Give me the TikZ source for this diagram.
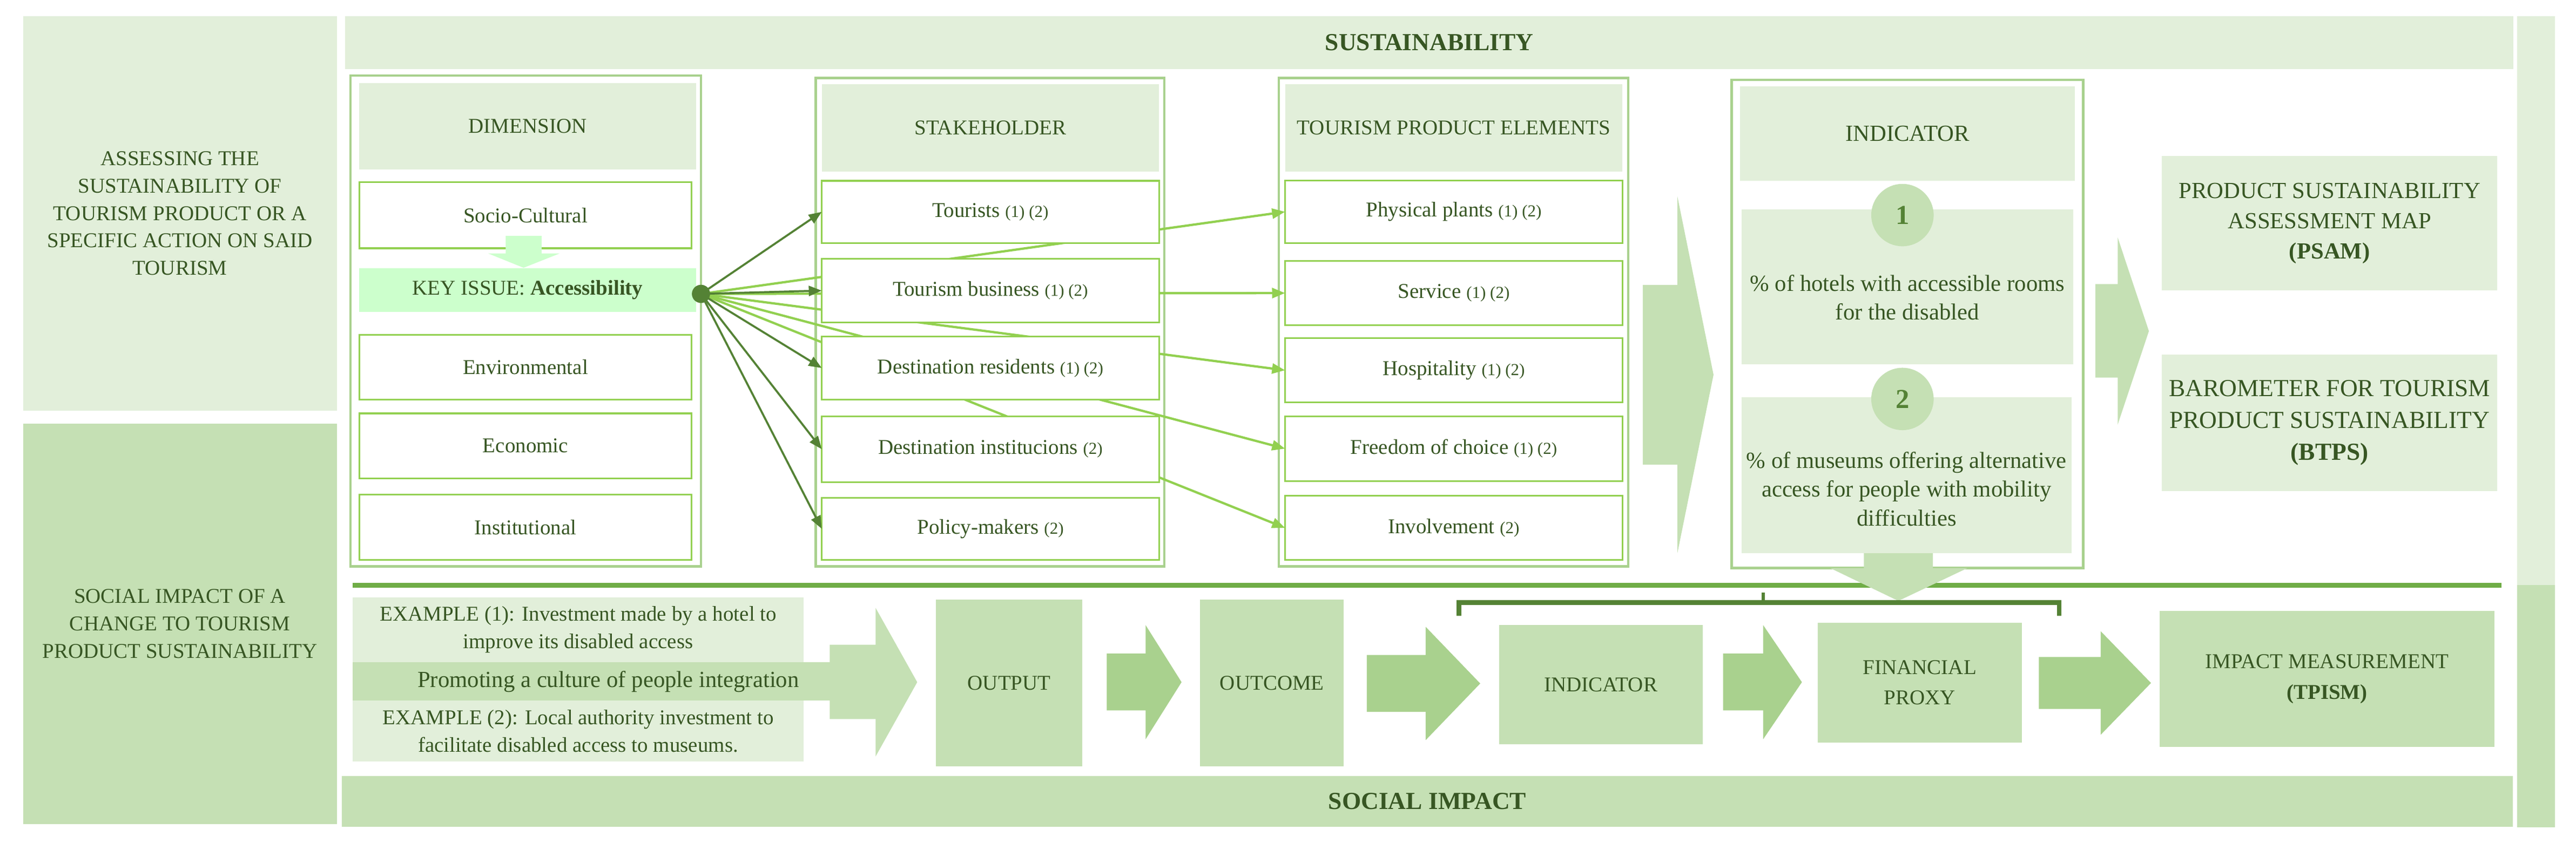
\documentclass[tikz,border=0pt]{standalone}
\usepackage{fontspec}
\setmainfont{Liberation Serif}
\usetikzlibrary{arrows.meta}
\definecolor{gL}{HTML}{E2EFDA}
\definecolor{gM}{HTML}{C5E0B4}
\definecolor{gA}{HTML}{A9D18E}
\definecolor{gB}{HTML}{92D050}
\definecolor{gK}{HTML}{CCFFCC}
\definecolor{gLine}{HTML}{70AD47}
\definecolor{dk}{HTML}{548235}
\definecolor{txt}{HTML}{375623}
\newcommand\RB[7]{\node[#1, minimum width={(#5-#3)*0.02cm}, minimum height={(#6-#4)*0.02cm}] (#2) at ({(#3+#5)/2},{(#4+#6)/2}) {#7};}
\newcommand\blk[8]{\fill[#1] (#2,#4) -- (#3,#4) -- (#3,#6) -- (#8,{(#6+#7)/2}) -- (#3,#7) -- (#3,#5) -- (#2,#5) -- cycle;}
\newcommand\nn[1]{{\fontsize{5.8}{6}\selectfont #1}}
\begin{document}
\begin{tikzpicture}[x=0.02cm,y=-0.02cm,
  base/.style={inner sep=0pt, outer sep=0pt, align=center, text=txt, font=\fontsize{7.3}{9.5}\selectfont},
  fL/.style={base, fill=gL},
  fM/.style={base, fill=gM},
  fK/.style={base, fill=gK},
  wb/.style={base, fill=white, draw=gB, line width=0.6pt},
  fr/.style={base, draw=gA, line width=0.8pt},
  dark/.style={draw=dk, line width=0.7pt, -{Triangle[length=4.5pt,width=3.5pt]}},
  lite/.style={draw=gB, line width=0.8pt, -{Triangle[length=4.5pt,width=3.5pt]}}]
\useasboundingbox (0,0) rectangle (1568,517.7);
\RB{fL}{lt}{14}{10}{205}{250}{ASSESSING THE\\SUSTAINABILITY OF\\TOURISM PRODUCT OR A\\SPECIFIC ACTION ON SAID\\TOURISM}
\RB{fM}{lb}{14}{258}{205}{502}{SOCIAL IMPACT OF A\\CHANGE TO TOURISM\\PRODUCT SUSTAINABILITY}
\RB{fL,font=\fontsize{8.5}{9}\selectfont\bfseries}{sus}{210}{10}{1530}{42}{SUSTAINABILITY}
\RB{fM,font=\fontsize{8.5}{9}\selectfont\bfseries}{soc}{208}{472.7}{1529.6}{503.6}{SOCIAL IMPACT}
\RB{fL}{rs1}{1532}{10}{1555}{356.2}{}
\RB{fM}{rs2}{1532}{356.2}{1555}{504}{}
\RB{fr}{fd}{213.4}{46.1}{426.7}{345}{}
\RB{fr}{fs}{496.5}{47.5}{708.6}{345}{}
\RB{fr}{fp}{778.4}{47.5}{991}{345}{}
\RB{fr}{fi}{1054}{48.6}{1268}{346}{}
\RB{fL}{dh}{218.7}{50.7}{423.6}{103.1}{DIMENSION}
\RB{wb}{d1}{218.7}{111}{421}{151.2}{Socio-Cultural}
\fill[gK] (307.8,143.7) -- (329.7,143.7) -- (329.7,154.4) -- (340.6,154.4) -- (318.7,163.1) -- (297.2,154.4) -- (307.8,154.4) -- cycle;
\RB{fK}{key}{218.7}{163.5}{423.6}{189.9}{KEY ISSUE: \textbf{Accessibility}}
\RB{wb}{d2}{218.7}{204}{421}{243.3}{Environmental}
\RB{wb}{d3}{218.7}{251.8}{421}{291.4}{Economic}
\RB{wb}{d4}{218.7}{301.3}{421}{341}{Institutional}
\RB{fL}{ph}{782.2}{51.2}{987.6}{104.4}{TOURISM PRODUCT ELEMENTS}
\RB{wb}{p1}{782.2}{110}{987.6}{148}{Physical plants \nn{(1) (2)}}
\RB{wb}{p2}{782.2}{159}{987.6}{198}{Service \nn{(1) (2)}}
\RB{wb}{p3}{782.2}{206}{987.6}{245}{Hospitality \nn{(1) (2)}}
\RB{wb}{p4}{782.2}{253.5}{987.6}{293}{Freedom of choice \nn{(1) (2)}}
\RB{wb}{p5}{782.2}{302}{987.6}{341}{Involvement \nn{(2)}}
\node[circle, fill=dk, inner sep=0pt, minimum size=0.22cm] (hub) at (426.7,179) {};
\draw[lite] (hub.center) -- (p1.west);
\draw[lite] (hub.center) -- (p2.west);
\draw[lite] (hub.center) -- (p3.west);
\draw[lite] (hub.center) -- (p4.west);
\draw[lite] (hub.center) -- (p5.west);
\RB{fL}{sh}{500.2}{51.2}{705.5}{104.6}{STAKEHOLDER}
\RB{wb}{s1}{500.2}{110.1}{705.5}{148}{Tourists \nn{(1) (2)}}
\RB{wb}{s2}{500.2}{157.5}{705.5}{196.5}{Tourism business \nn{(1) (2)}}
\RB{wb}{s3}{500.2}{205}{705.5}{243.3}{Destination residents \nn{(1) (2)}}
\RB{wb}{s4}{500.2}{253.5}{705.5}{293.7}{Destination institucions \nn{(2)}}
\RB{wb}{s5}{500.2}{303.2}{705.5}{341}{Policy-makers \nn{(2)}}
\draw[dark] (hub.center) -- (s1.west);
\draw[dark] (hub.center) -- (s2.west);
\draw[dark] (hub.center) -- (s3.west);
\draw[dark] (hub.center) -- (s4.west);
\draw[dark] (hub.center) -- (s5.west);
\node[circle, fill=dk, inner sep=0pt, minimum size=0.22cm] at (hub) {};
\RB{fL,font=\fontsize{8}{9}\selectfont}{ih}{1059}{52.5}{1263}{110}{INDICATOR}
\RB{fL,font=\fontsize{8}{10}\selectfont}{i1}{1060}{127.5}{1262}{222}{\\[3pt]\% of hotels with accessible rooms\\for the disabled}
\RB{fL,font=\fontsize{8}{10}\selectfont}{i2}{1060}{242}{1261}{337}{\\[5pt]\% of museums offering alternative\\access for people with mobility\\difficulties}
\node[circle, fill=gM, inner sep=0pt, minimum size=0.76cm, text=dk, font=\fontsize{9.5}{9}\selectfont\bfseries] (c1) at (1158,131) {1};
\node[circle, fill=gM, inner sep=0pt, minimum size=0.76cm, text=dk, font=\fontsize{9.5}{9}\selectfont\bfseries] (c2) at (1158,243) {2};
\blk{gM}{1000}{1021}{173.6}{283}{119.5}{337}{1043}
\blk{gM}{1275.5}{1289}{173}{230}{144.6}{258.7}{1308}
\RB{fL,font=\fontsize{8}{10.5}\selectfont}{psam}{1316}{95}{1520}{177}{PRODUCT SUSTAINABILITY\\ASSESSMENT MAP\\\textbf{(PSAM)}}
\RB{fL,font=\fontsize{8.5}{11}\selectfont}{btps}{1316}{216}{1520}{299}{BAROMETER FOR TOURISM\\PRODUCT SUSTAINABILITY\\\textbf{(BTPS)}}
\draw[gLine, line width=1.6pt] (214.7,356.4) -- (1522.6,356.4);
\fill[gM] (1134.5,337) -- (1176.5,337) -- (1176.5,346) -- (1197.6,346) -- (1155.5,366) -- (1114,346) -- (1134.5,346) -- cycle;
\draw[dk, line width=1.6pt] (888,375) -- (888,367) -- (1253.4,367) -- (1253.4,375);
\draw[dk, line width=1.2pt] (1073.2,367) -- (1073.2,361);
\RB{fL}{e1}{214.7}{363.9}{489.2}{403.3}{EXAMPLE (1): Investment made by a hotel to\\improve its disabled access}
\RB{fL}{e2}{214.7}{426.8}{489.2}{463.8}{EXAMPLE (2): Local authority investment to\\facilitate disabled access to museums.}
\RB{fM,font=\fontsize{8}{9}\selectfont}{prom}{214.7}{403.3}{505.8}{426.8}{\hspace*{0.4cm}Promoting a culture of people integration}
\blk{gM}{505}{533}{392.7}{438}{370.3}{460.7}{558.3}
\RB{fM}{out}{569.7}{365.3}{658.8}{466.8}{OUTPUT}
\blk{gA}{673.7}{697.3}{398}{432.7}{380.7}{450.3}{719.2}
\RB{fM}{outc}{730.5}{365.3}{818}{466.8}{OUTCOME}
\blk{gA}{832}{867.8}{398.9}{433.5}{381.8}{450.8}{901}
\RB{fM}{ind}{912.4}{380.6}{1036.5}{453.3}{INDICATOR}
\blk{gA}{1048.8}{1073.2}{398}{432.7}{380.7}{450.3}{1096.8}
\RB{fM,font=\fontsize{7.3}{10.5}\selectfont}{fin}{1106.5}{379.3}{1230.6}{452.2}{FINANCIAL\\PROXY}
\blk{gA}{1241}{1278.7}{400.2}{431.8}{384.5}{447.5}{1309.3}
\RB{fM,font=\fontsize{7.3}{10.5}\selectfont}{imp}{1314.6}{372.2}{1518.3}{455}{IMPACT MEASUREMENT\\\textbf{(TPISM)}}
\end{tikzpicture}
\end{document}
